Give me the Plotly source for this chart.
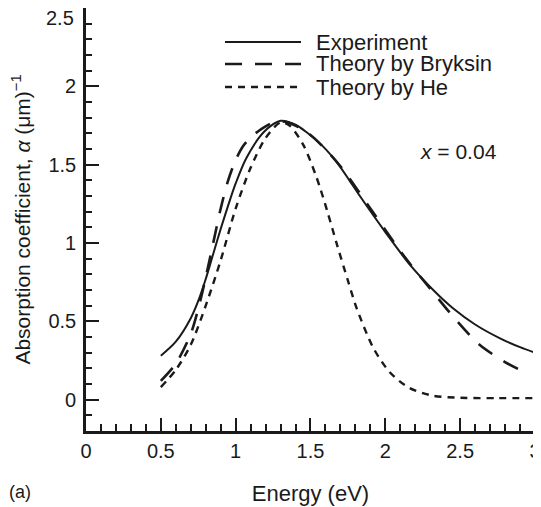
import plotly.graph_objects as go

# Experiment (solid)
exp_x = [0.5, 0.6, 0.7, 0.75, 0.8, 0.85, 0.9, 0.95, 1.0, 1.07, 1.19, 1.3, 1.4, 1.47, 1.58, 1.68, 1.76, 1.83, 2.0, 2.165, 2.32, 2.45, 2.6, 2.77, 2.9, 3.0]
exp_y = [0.28, 0.37, 0.52, 0.63, 0.77, 0.93, 1.09, 1.24, 1.38, 1.54, 1.71, 1.78, 1.755, 1.71, 1.62, 1.51, 1.40, 1.30, 1.07, 0.86, 0.70, 0.585, 0.48, 0.39, 0.335, 0.30]

# Theory by Bryksin (long dash)
bry_x = [0.5, 0.6, 0.7, 0.75, 0.8, 0.85, 0.9, 0.95, 1.0, 1.05, 1.107, 1.2, 1.274, 1.35, 1.5, 1.7, 1.9, 2.13, 2.29, 2.44, 2.63, 2.8, 2.9]
bry_y = [0.12, 0.23, 0.42, 0.58, 0.78, 1.00, 1.22, 1.40, 1.53, 1.62, 1.68, 1.745, 1.775, 1.77, 1.69, 1.49, 1.22, 0.91, 0.72, 0.545, 0.35, 0.24, 0.19]

# Theory by He (short dash)
he_x = [0.5, 0.6, 0.7, 0.8, 0.9, 1.0, 1.1, 1.2, 1.3, 1.36, 1.45, 1.54, 1.61, 1.68, 1.75, 1.81, 1.92, 2.03, 2.16, 2.32, 2.5, 2.75, 3.0]
he_y = [0.08, 0.19, 0.35, 0.60, 0.89, 1.22, 1.48, 1.67, 1.77, 1.75, 1.63, 1.42, 1.21, 0.98, 0.76, 0.58, 0.33, 0.175, 0.075, 0.025, 0.012, 0.01, 0.01]

legend_labels = ["Experiment", "Theory by Bryksin", "Theory by He"]
x_ticks = [0, 0.5, 1, 1.5, 2, 2.5, 3]
x_tick_text = ["0", "0.5", "1", "1.5", "2", "2.5", "3"]
y_ticks = [0, 0.5, 1, 1.5, 2, 2.5]
y_tick_text = ["0", "0.5", "1", "1.5", "2", "2.5"]

FONT = "Liberation Sans, Arial, Helvetica, sans-serif"
INK = "#1a1a1a"
BRY_DASH = "17px,13px"
HE_DASH = "7px,6px"

fig = go.Figure()
fig.add_trace(go.Scatter(x=exp_x, y=exp_y, mode="lines", name=legend_labels[0],
                         line=dict(color=INK, width=2, shape="spline", smoothing=0.8), showlegend=False))
fig.add_trace(go.Scatter(x=bry_x, y=bry_y, mode="lines", name=legend_labels[1],
                         line=dict(color=INK, width=2.6, dash=BRY_DASH, shape="spline", smoothing=0.8), showlegend=False))
fig.add_trace(go.Scatter(x=he_x, y=he_y, mode="lines", name=legend_labels[2],
                         line=dict(color=INK, width=2.4, dash=HE_DASH, shape="spline", smoothing=0.8), showlegend=False))

# page has an 8px body margin; figure is laid out in its own coordinates
OFF = 8
FW, FH = 541 - OFF, 507 - OFF
L, R, T, B = 86 - OFF, 535 - OFF, 0, 431 - OFF
W, H = R - L, B - T
def px(xp): return (xp - OFF - L) / W
def py(yp): return (B - (yp - OFF)) / H

shapes = []
annotations = []
leg_rows = [42, 64, 87]
dashes = ["solid", BRY_DASH, HE_DASH]
widths = [2, 2.6, 2.4]
for lab, yy, d, w in zip(legend_labels, leg_rows, dashes, widths):
    shapes.append(dict(type="line", xref="paper", yref="paper", x0=px(225), x1=px(301), y0=py(yy), y1=py(yy),
                       line=dict(color=INK, width=w, dash=d)))
    annotations.append(dict(xref="paper", yref="paper", x=px(314), y=py(yy), text=lab, showarrow=False,
                            xanchor="left", yanchor="middle", font=dict(family=FONT, size=22, color=INK)))

annotations.append(dict(xref="x", yref="y", x=2.49, y=1.583, text="<i>x</i> = 0.04", showarrow=False,
                        xanchor="center", yanchor="middle", font=dict(family=FONT, size=21, color=INK)))
annotations.append(dict(xref="paper", yref="paper", x=px(7), y=py(492), text="(a)", showarrow=False,
                        xanchor="left", yanchor="middle", font=dict(family=FONT, size=18, color=INK)))
# top y tick label sits just inside the top edge (as in the original)
annotations.append(dict(xref="paper", yref="y", x=0, y=y_ticks[-1], text=y_tick_text[-1], showarrow=False,
                        xanchor="right", yanchor="top", xshift=-10, yshift=3,
                        font=dict(family=FONT, size=20, color=INK)))

axis_common = dict(showline=True, linewidth=2.6, linecolor=INK, mirror=True, showgrid=False, zeroline=False,
                   ticks="inside", tickwidth=2, tickcolor=INK, ticklen=13, automargin=False,
                   ticklabeloverflow="allow", tickfont=dict(family=FONT, size=20, color=INK))

fig.update_layout(
    width=FW, height=FH,
    margin=dict(l=L, r=FW - R, t=T, b=FH - B),
    paper_bgcolor="white", plot_bgcolor="white",
    shapes=shapes, annotations=annotations,
    xaxis=dict(range=[0, 3.0001], tickvals=x_ticks, ticktext=x_tick_text,
               minor=dict(dtick=0.1, tick0=0, ticks="inside", ticklen=7, tickwidth=2, tickcolor=INK),
               title=dict(text="Energy (eV)", font=dict(family=FONT, size=22, color=INK), standoff=25),
               **axis_common),
    yaxis=dict(range=[-0.2, 2.5001], tickvals=y_ticks[:-1], ticktext=y_tick_text[:-1], ticklabelstandoff=3,
               minor=dict(dtick=0.1, tick0=0, ticks="inside", ticklen=6, tickwidth=2, tickcolor=INK),
               title=dict(text="Absorption coefficient, <i>α</i> (μm)<sup>−1</sup>",
                          font=dict(family=FONT, size=21, color=INK), standoff=19),
               **axis_common),
)

fig.write_html("out.html")
